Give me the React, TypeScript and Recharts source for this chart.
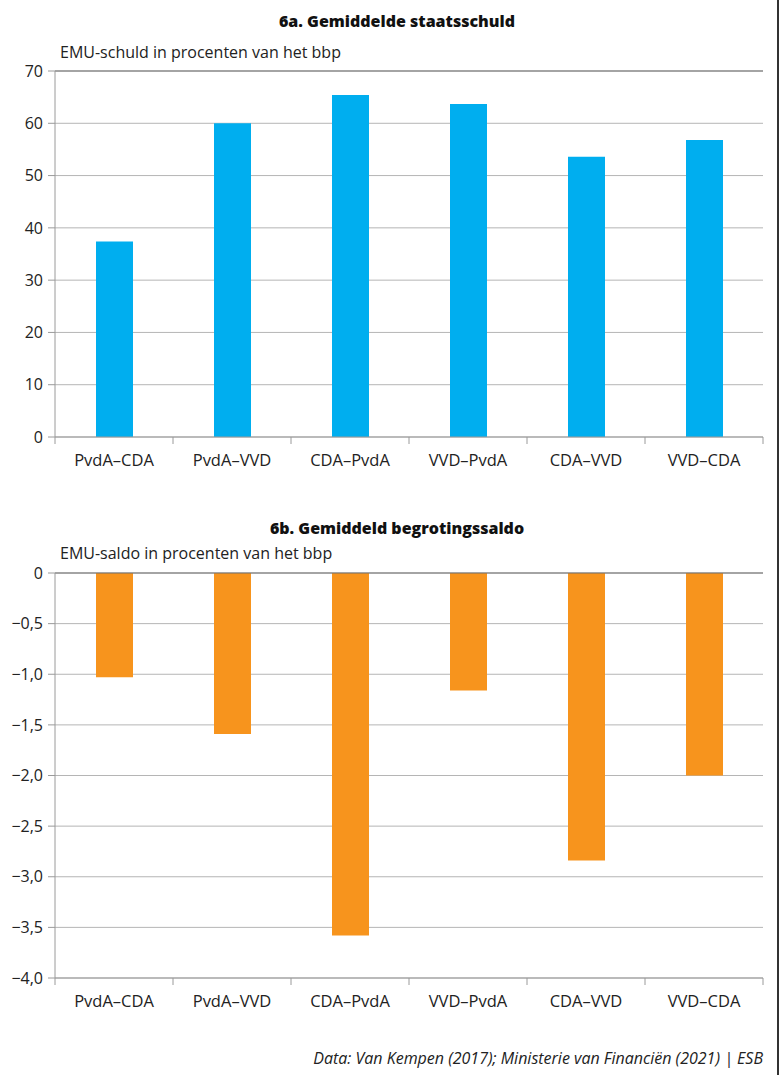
import React from 'react';
import { BarChart, Bar, XAxis, YAxis, CartesianGrid, ReferenceLine } from 'recharts';

const categories = ['PvdA–CDA', 'PvdA–VVD', 'CDA–PvdA', 'VVD–PvdA', 'CDA–VVD', 'VVD–CDA'];
const schuldValues = [37.4, 60.0, 65.4, 63.7, 53.6, 56.8];
const saldoValues = [-1.03, -1.59, -3.58, -1.16, -2.84, -2.0];
const schuldTicks = [0, 10, 20, 30, 40, 50, 60, 70];
const saldoTicks = [0, -0.5, -1, -1.5, -2, -2.5, -3, -3.5, -4];

const schuldData = categories.map((name, i) => ({ name, value: schuldValues[i] }));
const saldoData = categories.map((name, i) => ({ name, value: saldoValues[i] }));

const FONT = '"Open Sans", "Noto Sans", sans-serif';
const AXIS = '#9a9a9a';

const fmtSaldo = (v: number) => (v === 0 ? '0' : v.toFixed(1).replace('.', ',').replace('-', '−'));

// category label centred, tick marks on the band edges
function CategoryTick(props: any) {
  const { x, y, payload, index } = props;
  const half = payload && payload.offset ? payload.offset : 59;
  const last = index === categories.length - 1;
  return (
    <g>
      <line x1={x - half} x2={x - half} y1={y - 8} y2={y - 1} stroke={AXIS} />
      {last && <line x1={x + half} x2={x + half} y1={y - 8} y2={y - 1} stroke={AXIS} />}
      <text
        x={x}
        y={y + 14}
        textAnchor="middle"
        dominantBaseline="central"
        fontSize={16.5}
        fontFamily={FONT}
        fill="#222"
      >
        {payload.value}
      </text>
    </g>
  );
}

function Panel({
  data,
  ticks,
  domain,
  fill,
  height,
  top,
  formatter,
  edge,
}: {
  data: { name: string; value: number }[];
  ticks: number[];
  domain: [number, number];
  fill: string;
  height: number;
  top: number;
  formatter?: (v: number) => string;
  edge: number;
}) {
  return (
    <BarChart
      width={780}
      height={height}
      data={data}
      margin={{ top, right: 17, left: 0, bottom: 0 }}
      barSize={37}
    >
      <CartesianGrid vertical={false} stroke="#b5b5b5" />
      <XAxis
        dataKey="name"
        height={33}
        axisLine={{ stroke: AXIS }}
        tickLine={false}
        tick={<CategoryTick />}
        interval={0}
      />
      <YAxis
        domain={domain}
        ticks={ticks}
        width={55}
        interval={0}
        axisLine={{ stroke: AXIS }}
        tickLine={{ stroke: AXIS }}
        tickSize={7}
        tickMargin={5}
        tickFormatter={formatter}
        tick={{ fontSize: 16, fontFamily: FONT, fill: '#222' }}
      />
      <YAxis
        yAxisId="right"
        orientation="right"
        width={0}
        tick={false}
        tickLine={false}
        axisLine={{ stroke: '#b5b5b5' }}
      />
      <ReferenceLine y={edge} stroke="#6e6e6e" />
      <Bar dataKey="value" fill={fill} isAnimationActive={false} />
    </BarChart>
  );
}

const titleStyle: React.CSSProperties = {
  position: 'absolute',
  left: 0,
  width: 794,
  textAlign: 'center',
  fontFamily: FONT,
  fontWeight: 800,
  fontSize: 16,
  color: '#111',
  lineHeight: '20px',
};

const subStyle: React.CSSProperties = {
  position: 'absolute',
  left: 60,
  fontFamily: FONT,
  fontSize: 16,
  color: '#222',
  lineHeight: '20px',
};

export default function App() {
  return (
    <div
      style={{
        position: 'absolute',
        left: 0,
        top: 0,
        width: 780,
        height: 1075,
        background: '#fff',
        fontFamily: FONT,
      }}
    >
      <div style={{ position: 'absolute', left: 777, top: 0, width: 2, height: 1075, background: '#333' }} />

      <div style={{ ...titleStyle, top: 11 }}>6a. Gemiddelde staatsschuld</div>
      <div style={{ ...subStyle, top: 42 }}>EMU-schuld in procenten van het bbp</div>
      <div style={{ position: 'absolute', left: 0, top: 0 }}>
        <Panel
          data={schuldData}
          ticks={schuldTicks}
          domain={[0, 70]}
          fill="#00AEEF"
          height={470}
          top={71}
          edge={70}
        />
      </div>

      <div style={{ ...titleStyle, top: 518 }}>6b. Gemiddeld begrotingssaldo</div>
      <div style={{ ...subStyle, top: 543 }}>EMU-saldo in procenten van het bbp</div>
      <div style={{ position: 'absolute', left: 0, top: 500 }}>
        <Panel
          data={saldoData}
          ticks={saldoTicks}
          domain={[-4, 0]}
          fill="#F7941D"
          height={511}
          top={73}
          formatter={fmtSaldo}
          edge={0}
        />
      </div>

      <div
        style={{
          position: 'absolute',
          right: 17,
          top: 1048,
          fontFamily: FONT,
          fontStyle: 'italic',
          fontSize: 16,
          color: '#222',
          lineHeight: '20px',
        }}
      >
        Data: Van Kempen (2017); Ministerie van Financiën (2021) | ESB
      </div>
    </div>
  );
}
